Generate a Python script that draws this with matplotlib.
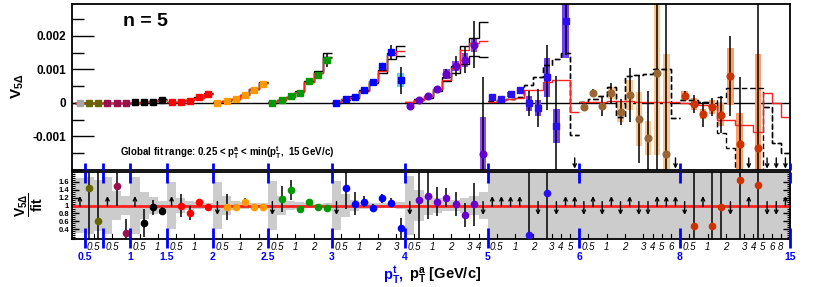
import numpy as np
import matplotlib
matplotlib.use("Agg")
import matplotlib.pyplot as plt
from matplotlib.patches import Rectangle
from matplotlib.ticker import MultipleLocator
from matplotlib.transforms import blended_transform_factory

plt.rcParams['font.family'] = ['Liberation Sans', 'DejaVu Sans']
plt.rcParams['mathtext.fontset'] = 'custom'
plt.rcParams['mathtext.rm'] = 'Liberation Sans'
plt.rcParams['mathtext.it'] = 'Liberation Sans:italic'
plt.rcParams['mathtext.bf'] = 'Liberation Sans:bold'

# ---- binning: trigger bins, each holding assoc bins with pTa <= pTt ----
trig_edges = [0.25, 0.5, 0.75, 1.0, 1.5, 2.0, 2.5, 3.0, 4.0, 5.0, 6.0, 8.0, 15.0]
assoc_edges = [0.25, 0.5, 0.75, 1.0, 1.5, 2.0, 2.5, 3.0, 4.0, 5.0, 6.0, 8.0, 15.0]
trig_labels = ["", "0.5", "", "1", "1.5", "2", "2.5", "3", "4", "5", "6", "8", "15"]
assoc_labelled = [0.5, 1, 2, 3, 4, 5, 6, 8]

marker_colors = ['#a6a6a6', '#666600', '#99104d', '#000000', '#ff0000', '#ff9900',
                 '#009900', '#0000ff', '#6600cc', '#2a10f0', '#996633', '#cc3300']
box_colors = ['#d9d9d9', '#b3b366', '#cc6699', '#999999', '#ff9999', '#ffcc66',
              '#66cc66', '#66ccff', '#8f4cf5', '#7040ff', '#fcc690', '#ff9f66']
marker_shapes = ['s', 's', 's', 's', 's', 's', 's', 's', 'o', 's', 'o', 'o']

# ---- top panel: V_5Delta per (trigger, assoc) bin ----
v5 = [0.0,
      0.0, 0.0,
      0.0, 0.0, 0.0,
      2e-5, 2e-5, 4e-5, 1.0e-4,
      2e-5, 3e-5, 7e-5, 1.7e-4, 2.6e-4,
      -1e-5, 6e-5, 1.1e-4, 2.4e-4, 3.9e-4, 5.7e-4,
      -1e-5, 9e-5, 2.1e-4, 3.1e-4, 6.6e-4, 8.4e-4, 1.28e-3,
      -1e-5, 1.2e-4, 1.8e-4, 3.9e-4, 6.1e-4, 1.10e-3, 1.52e-3, 6.8e-4,
      -8e-5, 1.0e-4, 2.2e-4, 4.2e-4, 8.7e-4, 1.10e-3, 1.28e-3, 1.73e-3, -1.52e-3,
      1.9e-4, 1.3e-4, 2.6e-4, 3.8e-4, -1e-5, -1.6e-4, 7.6e-4, -6.9e-4, 2.43e-3, -2.5e-3,
      -1.1e-4, 3.1e-4, -9e-5, 2.9e-4, -2.7e-4, 2.3e-4, -4.8e-4, -1.05e-3, 9.0e-4, -1.53e-3, -2.5e-3,
      2.2e-4, -3e-5, -3.4e-4, -1.1e-4, -3.5e-4, 8.0e-4, -1.23e-3, -2.5e-3, -1.33e-3, -2.5e-3, -2.5e-3, -2.5e-3]
v5_stat = [1e-5,
           1e-5, 1e-5,
           1e-5, 1e-5, 1e-5,
           1e-5, 1e-5, 2e-5, 2e-5,
           2e-5, 2e-5, 2e-5, 3e-5, 3e-5,
           2e-5, 2e-5, 3e-5, 3e-5, 4e-5, 5e-5,
           2e-5, 3e-5, 4e-5, 5e-5, 6e-5, 8e-5, 2.2e-4,
           2e-5, 3e-5, 4e-5, 5e-5, 6e-5, 8e-5, 2.0e-4, 4.0e-4,
           5e-5, 6e-5, 7e-5, 8e-5, 1.5e-4, 3.0e-4, 4.0e-4, 7.0e-4, 2.3e-3,
           8e-5, 6e-5, 1.0e-4, 1.0e-4, 3.7e-4, 5.7e-4, 9.7e-4, 1.5e-3, 1.0e-3, 5e-4,
           1.0e-4, 1.2e-4, 3.0e-4, 3.0e-4, 4.0e-4, 8.0e-4, 1.3e-3, 1.4e-3, 3.5e-3, 4.5e-3, 5e-4,
           1.5e-4, 2.7e-4, 3.7e-4, 2.7e-4, 5.5e-4, 1.2e-3, 2.0e-3, 5e-4, 4.5e-3, 5e-4, 5e-4, 5e-4]
v5_sys = [0.0,
          0.0, 0.0,
          0.0, 0.0, 0.0,
          0.0, 0.0, 0.0, 0.0,
          0.0, 0.0, 0.0, 1e-5, 1e-5,
          0.0, 0.0, 1e-5, 1e-5, 2e-5, 2e-5,
          0.0, 1e-5, 1e-5, 2e-5, 2e-5, 3e-5, 4e-5,
          1e-5, 1e-5, 2e-5, 2e-5, 3e-5, 4e-5, 5e-5, 2.0e-4,
          2e-5, 3e-5, 4e-5, 5e-5, 1.5e-4, 1.5e-4, 2.2e-4, 2.2e-4, 1.1e-3,
          6e-5, 5e-5, 8e-5, 1.0e-4, 2.2e-4, 2.4e-4, 5.7e-4, 5.0e-4, 1.1e-3, 0.0,
          5e-5, 6e-5, 6e-5, 1.8e-4, 3.0e-4, 4.5e-4, 8.0e-4, 5.0e-4, 2.45e-3, 3.0e-3, 0.0,
          1.3e-4, 1.8e-4, 1.5e-4, 2.1e-4, 3.5e-4, 8.5e-4, 9.3e-4, 0.0, 2.8e-3, 0.0, 0.0, 0.0]

# global fit (red) and factorised product band (black)
fit = [0.0,
       0.0, 0.0,
       0.0, 0.0, 0.0,
       1e-5, 3e-5, 5e-5, 1.0e-4,
       2e-5, 3e-5, 8e-5, 1.6e-4, 2.7e-4,
       2e-5, 6e-5, 1.2e-4, 2.3e-4, 4.1e-4, 6.0e-4,
       2e-5, 8e-5, 1.8e-4, 3.3e-4, 6.1e-4, 8.8e-4, 1.34e-3,
       2e-5, 1.1e-4, 1.7e-4, 3.6e-4, 6.5e-4, 9.6e-4, 1.42e-3, 1.55e-3,
       3e-5, 9e-5, 2.0e-4, 4.1e-4, 6.9e-4, 1.04e-3, 1.58e-3, 1.80e-3, 1.86e-3,
       4e-5, 9e-5, 1.2e-4, 1.5e-4, 3.9e-4, 4.0e-4, 6.2e-4, 6.9e-4, 6.9e-4, -2.6e-4,
       2e-5, 4e-5, 4e-5, 5e-5, 5e-5, 5e-5, 4e-5, 4e-5, 3e-5, 3e-5, 3e-5,
       0.0, -4e-5, -7e-5, -1.0e-4, -5.0e-4, -5.2e-4, -6.6e-4, -6.6e-4, -8.6e-4, 2.9e-4, 1e-5, -4.2e-4]
fact_hi = [0.0,
           0.0, 0.0,
           0.0, 0.0, 0.0,
           1e-5, 3e-5, 6e-5, 1.1e-4,
           2e-5, 4e-5, 9e-5, 1.7e-4, 2.9e-4,
           2e-5, 7e-5, 1.3e-4, 2.5e-4, 4.3e-4, 6.3e-4,
           2e-5, 1.0e-4, 1.9e-4, 3.6e-4, 6.6e-4, 9.6e-4, 1.48e-3,
           1e-5, 1.1e-4, 2.0e-4, 4.0e-4, 6.6e-4, 9.8e-4, 1.50e-3, 1.70e-3,
           2e-5, 1.2e-4, 2.2e-4, 4.3e-4, 7.8e-4, 1.10e-3, 1.70e-3, 1.95e-3, 2.40e-3,
           5e-5, 8e-5, 1.2e-4, 1.8e-4, 5.4e-4, 7.7e-4, 1.12e-3, 1.30e-3, 1.50e-3, -9.5e-4,
           4e-5, 1.2e-4, 2.0e-4, 4.7e-4, -4.1e-4, 7.9e-4, 8.4e-4, 8.7e-4, 1.0e-3, 1.0e-3, -4.5e-4,
           9e-5, 9e-5, 4e-5, -7e-5, 1.9e-4, 4.4e-4, 4.4e-4, 4.4e-4, 4.4e-4, -1.1e-4, -1.2e-3, -1.5e-3]
fact_lo = [0.0,
           0.0, 0.0,
           0.0, 0.0, 0.0,
           1e-5, 3e-5, 5e-5, 1.0e-4,
           2e-5, 3e-5, 8e-5, 1.6e-4, 2.7e-4,
           2e-5, 6e-5, 1.2e-4, 2.3e-4, 4.1e-4, 6.0e-4,
           1e-5, 9e-5, 1.7e-4, 3.3e-4, 6.2e-4, 9.0e-4, 1.36e-3,
           0.0, 9e-5, 1.6e-4, 3.6e-4, 6.0e-4, 9.0e-4, 1.30e-3, 1.40e-3,
           0.0, 8e-5, 1.6e-4, 3.5e-4, 6.5e-4, 9.0e-4, 1.15e-3, 1.40e-3, 1.37e-3,
           5e-5, 8e-5, 1.2e-4, 1.8e-4, 5.4e-4, 7.7e-4, 1.12e-3, 1.30e-3, 1.50e-3, -9.5e-4,
           4e-5, 1.2e-4, 2.0e-4, 4.7e-4, -4.1e-4, 7.9e-4, 8.4e-4, 8.7e-4, 1.0e-3, 1.0e-3, -4.5e-4,
           9e-5, 9e-5, 4e-5, -7e-5, -9.0e-4, -1.35e-3, -2.5e-3, -2.5e-3, -2.5e-3, -1.1e-4, -1.2e-3, -1.5e-3]

# ---- bottom panel: data / fit ----
ratio = [None,
         1.45, 0.60,
         None, 1.50, 0.30,
         None, 0.55, 0.95, 0.85,
         None, 1.00, 0.82, 1.08, 0.95,
         None, 0.97, 0.95, 1.10, 0.95, 0.95,
         None, 1.16, 1.39, 0.91, 1.09, 0.95, 0.94,
         None, 1.45, 1.05, 1.10, 0.93, 1.18, 1.07, 0.43,
         None, 1.14, 1.25, 1.10, 1.20, 1.04, 0.76, 1.03, None,
         None, None, None, None, 0.24, None, 1.32, None, None, None,
         None, None, None, None, None, None, None, None, None, None, None,
         None, 0.49, None, 0.49, 0.97, None, 1.64, None, 1.51, None, None, None]
ratio_err = [0.0,
             2.0, 2.0,
             0.0, 0.5, 0.35,
             0.0, 0.35, 0.2, 0.1,
             0.0, 0.3, 0.18, 0.08, 0.08,
             0.0, 0.33, 0.1, 0.08, 0.05, 0.05,
             0.0, 0.33, 0.25, 0.07, 0.08, 0.07, 0.08,
             0.0, 0.55, 0.3, 0.15, 0.1, 0.12, 0.12, 0.25,
             0.0, 2.0, 0.6, 0.37, 0.25, 0.3, 0.3, 0.55, 0.0,
             0.0, 0.0, 0.0, 0.0, 2.0, 0.0, 2.0, 0.0, 0.0, 0.0,
             0.0, 0.0, 0.0, 0.0, 0.0, 0.0, 0.0, 0.0, 0.0, 0.0, 0.0,
             0.0, 2.0, 0.0, 2.0, 2.0, 0.0, 2.0, 0.0, 2.0, 0.0, 0.0, 0.0]
ratio_arrow = ['up',
               None, None,
               'up', None, None,
               'up', None, None, None,
               'up', None, None, None, None,
               'down', None, None, None, None, None,
               'down', None, None, None, None, None, None,
               'down', None, None, None, None, None, None, None,
               'down', None, None, None, None, None, None, None, 'down',
               'up', 'up', 'up', 'up', None, 'down', None, 'down', 'up', 'up',
               'down', 'up', 'down', 'up', 'down', 'up', 'down', 'down', 'up', 'up', 'up',
               'down', None, 'up', None, None, 'down', None, 'up', None, 'down', 'down', 'up']
fit_band = [0.70,
            0.72, 0.65,
            0.72, 0.36, 0.25,
            0.72, 0.35, 0.22, 0.12,
            0.60, 0.20, 0.12, 0.08, 0.06,
            0.60, 0.25, 0.12, 0.08, 0.06, 0.06,
            0.62, 0.25, 0.12, 0.08, 0.06, 0.05, 0.06,
            0.62, 0.30, 0.15, 0.10, 0.07, 0.06, 0.07, 0.08,
            0.75, 0.40, 0.25, 0.20, 0.15, 0.15, 0.20, 0.25, 0.35,
            2.0, 2.0, 2.0, 2.0, 2.0, 2.0, 2.0, 2.0, 2.0, 2.0,
            2.0, 2.0, 2.0, 2.0, 2.0, 2.0, 2.0, 2.0, 2.0, 2.0, 2.0,
            2.0, 2.0, 2.0, 2.0, 2.0, 2.0, 2.0, 2.0, 2.0, 2.0, 2.0, 2.0]

# ---- bin bookkeeping ----
n_trig = len(trig_edges) - 1
trig_of_bin, trig_start = [], []
for k in range(n_trig):
    trig_start.append(len(trig_of_bin))
    trig_of_bin += [k] * (k + 1)
trig_start.append(len(trig_of_bin))
n_bins = len(trig_of_bin)
edges = np.arange(n_bins + 1)
centers = edges[:-1] + 0.5

v5 = np.array(v5)
v5_stat = np.array(v5_stat)
v5_sys = np.array(v5_sys)
fit = np.array(fit)
fact_hi = np.array(fact_hi)
fact_lo = np.array(fact_lo)
ratio = np.array(ratio, dtype=float)
ratio_err = np.array(ratio_err)
fit_band = np.array(fit_band)

W, H = 814, 287
BLUE = '#0000ff'
RED = '#ff2020'


def fig_box(x0, y0, x1, y1):
    return [x0 / W, 1 - y1 / H, (x1 - x0) / W, (y1 - y0) / H]


fig = plt.figure(figsize=(W / 100, H / 100), dpi=100)
ax = fig.add_axes(fig_box(72, 4, 790, 170))
axr = fig.add_axes(fig_box(72, 172, 790, 239))
xlim = (-0.37, n_bins)
ylim = (-0.002, 0.00295)
rlim = (0.15, 1.85)

# ---------------- top panel ----------------
ax.axhline(0, color='k', lw=1, zorder=1)
# each trigger bin is its own histogram, so the steps do not join across bins
for k in range(n_trig):
    a, b = trig_start[k], trig_start[k + 1]
    ls = '-' if k < 9 else (0, (4, 2))
    for arr in (fact_hi, fact_lo):
        ax.stairs(arr[a:b], edges[a:b + 1], baseline=None, color='k', lw=1,
                  linestyle=ls, zorder=2)
    ax.stairs(fit[a:b], edges[a:b + 1], baseline=None, color=RED, lw=1, zorder=2.5)

for i in range(n_bins):
    k = trig_of_bin[i]
    if v5_sys[i] > 0:
        ax.add_patch(Rectangle((centers[i] - 0.35, v5[i] - v5_sys[i]), 0.7, 2 * v5_sys[i],
                               facecolor=box_colors[k], edgecolor='none', zorder=1.5))
ax.vlines(centers, v5 - v5_stat, v5 + v5_stat, color='k', lw=1.1, zorder=3)
for k in range(n_trig):
    sl = slice(trig_start[k], trig_start[k + 1])
    ax.plot(centers[sl], v5[sl], ls='none', marker=marker_shapes[k], ms=4.8,
            color=marker_colors[k], mec=marker_colors[k], zorder=4)
for i in range(n_bins):
    if v5[i] < ylim[0]:
        ax.annotate('', xy=(centers[i], -0.00196), xytext=(centers[i], -0.00164),
                    arrowprops=dict(arrowstyle='->', color='k', lw=1, shrinkA=0, shrinkB=0,
                                    mutation_scale=6), zorder=5)

ax.set_xlim(*xlim)
ax.set_ylim(*ylim)
ax.set_xticks([])
ax.set_yticks([-0.001, 0, 0.001, 0.002], ['-0.001', '0', '0.001', '0.002'],
              fontsize=8.5, fontweight='bold')
ax.yaxis.set_minor_locator(MultipleLocator(0.0005))
ax.tick_params(axis='y', which='major', direction='in', length=16, width=1, pad=4)
ax.tick_params(axis='y', which='minor', direction='in', length=8.5, width=1)
for s in ax.spines.values():
    s.set_linewidth(1.3)

tr_top = blended_transform_factory(ax.transData, ax.transAxes)
for k in range(1, n_trig + 1):
    ax.plot([trig_start[k]] * 2, [0, 0.045], transform=tr_top, color=BLUE, lw=2,
            clip_on=False, solid_capstyle='butt', zorder=6)

# ---------------- ratio panel ----------------
axr.stairs(1 + fit_band, edges, baseline=1 - fit_band, fill=True, color='#cccccc',
           lw=0, zorder=1)
axr.axhline(1, color=RED, lw=2, zorder=2)
axr.vlines(centers, ratio - ratio_err, ratio + ratio_err, color='k', lw=1.1, zorder=3)
for k in range(n_trig):
    sl = slice(trig_start[k], trig_start[k + 1])
    axr.plot(centers[sl], ratio[sl], ls='none', marker='o', ms=4.5,
             color=marker_colors[k], zorder=4)
for i in range(n_bins):
    if ratio_arrow[i] == 'up':
        tail, tip = 0.98, 1.24
    elif ratio_arrow[i] == 'down':
        tail, tip = 1.10, 0.76
    else:
        continue
    axr.annotate('', xy=(centers[i], tip), xytext=(centers[i], tail),
                 arrowprops=dict(arrowstyle='->', color='k', lw=1, shrinkA=0, shrinkB=0,
                                 mutation_scale=6), zorder=5)

axr.set_xlim(*xlim)
axr.set_ylim(*rlim)
axr.set_xticks([])
axr.set_yticks([0.4, 0.6, 0.8, 1.0, 1.2, 1.4, 1.6],
               ['0.4', '0.6', '0.8', '1', '1.2', '1.4', '1.6'],
               fontsize=5.5, fontweight='bold')
axr.yaxis.set_minor_locator(MultipleLocator(0.05))
axr.tick_params(axis='y', which='major', direction='in', length=5, width=1, pad=2,
                right=True)
axr.tick_params(axis='y', which='minor', direction='in', length=2.5, width=0.8,
                right=True)
for s in axr.spines.values():
    s.set_linewidth(1.3)

tr_r = blended_transform_factory(axr.transData, axr.transAxes)
tr_lab = blended_transform_factory(axr.transData, fig.transFigure)
for k in range(1, n_trig + 1):
    x = trig_start[k]
    axr.plot([x, x], [0.836, 1.0], transform=tr_r, color=BLUE, lw=2, clip_on=False,
             solid_capstyle='butt', zorder=6)
    axr.plot([x, x], [-0.134, 0.164], transform=tr_r, color=BLUE, lw=2, clip_on=False,
             solid_capstyle='butt', zorder=6)
    if trig_labels[k]:
        axr.text(x, 1 - 257 / H, trig_labels[k], transform=tr_lab, color=BLUE,
                 fontsize=7.5, fontweight='bold', ha='center', va='center')

# associated-pT edge labels inside every trigger bin
for k in range(n_trig):
    for j in range(1, k + 1):
        x = trig_start[k] + j
        val = assoc_edges[j]
        if val in assoc_labelled:
            axr.plot([x, x], [0, 0.07], transform=tr_r, color='k', lw=0.8)
            axr.text(x, 1 - 247.5 / H, f'{val:g}', transform=tr_lab, fontsize=7,
                     fontstyle='italic', ha='center', va='center')

# ---------------- labels ----------------
fig.text(145 / W, 1 - 22 / H, 'n = 5', fontsize=14, fontweight='bold',
         ha='center', va='center')
fig.text(120 / W, 1 - 153 / H,
         r'Global fit range: 0.25 < $\mathbf{p}_{\mathbf{T}}^{\mathbf{a}}$ < '
         r'min($\mathbf{p}_{\mathbf{T}}^{\mathbf{t}}$,  15 GeV/c)',
         fontsize=7, fontweight='bold', ha='left', va='center')
fig.text(18 / W, 1 - 86 / H, r'$\mathbf{V}_{\mathbf{5\Delta}}$', fontsize=11,
         rotation=90, ha='center', va='center')
fig.text(29 / W, 1 - 205 / H, r'$\dfrac{\mathbf{V}_{\mathbf{5\Delta}}}{\mathbf{fit}}$',
         fontsize=10, rotation=90, ha='center', va='center')
t1 = fig.text(383 / W, 1 - 275 / H, r'$\mathbf{p}_{\mathbf{T}}^{\mathbf{t}}$,',
              fontsize=10.5, fontweight='bold', color=BLUE, ha='left', va='center')
axr.annotate(r' $\mathbf{p}_{\mathbf{T}}^{\mathbf{a}}$ [GeV/c]', xy=(1, 0), xycoords=t1,
             xytext=(1, 0), textcoords='offset points', fontsize=10.5, fontweight='bold',
             ha='left', va='bottom', annotation_clip=False)

fig.savefig('out.png', dpi=100)
